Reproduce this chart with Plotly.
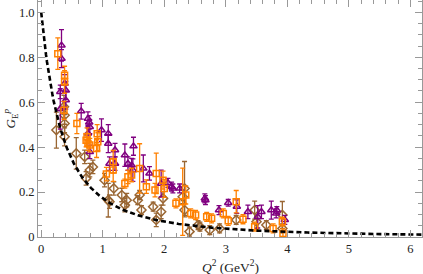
import numpy as np
import plotly.graph_objects as go

# Purple triangles
pur_x = [0.31, 0.33, 0.33, 0.31, 0.38, 0.40, 0.40, 0.65, 0.76, 0.78, 0.79, 0.76, 0.79, 0.98, 1.09, 1.09,
         1.11, 1.20, 1.20, 1.36, 1.41, 1.47, 1.49, 1.50, 1.66, 1.76, 1.95, 2.06, 2.12, 2.14, 2.25, 2.66,
         2.67, 2.89, 3.04, 3.18, 3.36, 3.52, 3.58, 3.74, 3.82, 3.83, 3.96]
pur_y = [0.646, 0.853, 0.794, 0.57, 0.683, 0.653, 0.609, 0.56, 0.527, 0.51, 0.49, 0.461, 0.379, 0.476, 0.46, 0.416,
         0.327, 0.387, 0.327, 0.364, 0.327, 0.32, 0.298, 0.404, 0.305, 0.283, 0.238, 0.241, 0.224, 0.216, 0.216, 0.172,
         0.164, 0.12, 0.152, 0.135, 0.112, 0.09, 0.112, 0.12, 0.105, 0.12, 0.076]
pur_e = [0.03, 0.07, 0.04, 0.09, 0.04, 0.04, 0.04, 0.035, 0.03, 0.03, 0.03, 0.03, 0.03, 0.05, 0.04, 0.04,
         0.03, 0.03, 0.03, 0.05, 0.03, 0.03, 0.05, 0.04, 0.06, 0.03, 0.06, 0.02, 0.02, 0.02, 0.02, 0.02,
         0.02, 0.02, 0.015, 0.03, 0.03, 0.05, 0.03, 0.04, 0.02, 0.015, 0.02]

# Orange squares
org_x = [0.27, 0.38, 0.38, 0.37, 0.58, 0.745, 0.73, 0.76, 0.79, 0.90, 0.92, 0.91, 1.06, 1.17, 1.17, 1.36,
         1.41, 1.47, 1.60, 1.71, 1.85, 1.87, 1.98, 2.00, 2.19, 2.30, 2.35, 2.43, 2.51, 2.69, 2.77, 2.96,
         3.04, 3.17, 3.28, 3.47, 3.77, 3.92, 3.93]
org_y = [0.816, 0.72, 0.69, 0.564, 0.505, 0.446, 0.431, 0.416, 0.409, 0.394, 0.424, 0.46, 0.28, 0.335, 0.298, 0.238,
         0.268, 0.276, 0.305, 0.224, 0.209, 0.283, 0.253, 0.216, 0.15, 0.157, 0.187, 0.105, 0.098, 0.09, 0.083, 0.105,
         0.072, 0.157, 0.079, 0.046, 0.038, 0.068, 0.016]
org_e = [0.07, 0.04, 0.05, 0.04, 0.045, 0.04, 0.03, 0.03, 0.03, 0.04, 0.04, 0.04, 0.03, 0.05, 0.05, 0.02,
         0.03, 0.03, 0.11, 0.03, 0.03, 0.09, 0.04, 0.04, 0.02, 0.15, 0.04, 0.02, 0.02, 0.02, 0.02, 0.02,
         0.02, 0.05, 0.02, 0.02, 0.02, 0.02, 0.02]

# Brown diamonds
brn_x = [0.247, 0.37, 0.38, 0.38, 0.38, 0.57, 0.707, 0.73, 0.79, 0.84, 1.03, 1.09, 1.11, 1.18, 1.31, 1.36,
         1.39, 1.57, 1.60, 1.63, 1.82, 1.87, 1.95, 1.98, 2.33, 2.30, 2.33, 2.41, 2.55, 2.58, 2.74, 2.90,
         3.17, 3.47, 3.50, 3.66, 3.92, 3.92]
brn_y = [0.476, 0.58, 0.542, 0.505, 0.446, 0.372, 0.357, 0.261, 0.298, 0.312, 0.253, 0.164, 0.157, 0.216, 0.187, 0.142,
         0.164, 0.164, 0.187, 0.12, 0.135, 0.076, 0.112, 0.172, 0.216, 0.179, 0.12, 0.024, 0.053, 0.046, 0.031, 0.038,
         0.076, 0.12, 0.068, 0.053, 0.098, 0.038]
brn_e = [0.08, 0.05, 0.04, 0.04, 0.04, 0.07, 0.03, 0.03, 0.03, 0.03, 0.03, 0.075, 0.03, 0.03, 0.03, 0.03,
         0.03, 0.02, 0.02, 0.02, 0.02, 0.03, 0.03, 0.03, 0.12, 0.03, 0.03, 0.02, 0.02, 0.02, 0.02, 0.02,
         0.02, 0.04, 0.03, 0.02, 0.06, 0.02]

# Dipole model curve parameter
LAMBDA2 = 0.71
q2_curve = np.linspace(0, 6.2, 400)
gd_curve = 1.0 / (1.0 + q2_curve / LAMBDA2) ** 2

x_ticks = [0, 1, 2, 3, 4, 5, 6]
y_ticks = [0, 0.2, 0.4, 0.6, 0.8, 1.0]
y_tick_text = ["0", "0.2", "0.4", "0.6", "0.8", "1.0"]

PURPLE = "#800080"
ORANGE = "#FF8000"
BROWN = "#996633"
SERIF = "Liberation Serif"

fig = go.Figure()

def add_series(x, y, e, color, symbol, size):
    fig.add_trace(go.Scatter(
        x=x, y=y, mode="markers",
        error_y=dict(type="data", array=e, visible=True, color=color, thickness=1.3, width=2.5),
        marker=dict(symbol=symbol, size=size, color=color, line=dict(color=color, width=1.5)),
        showlegend=False, hoverinfo="skip"))

add_series(brn_x, brn_y, brn_e, BROWN, "diamond-open", 7)
add_series(pur_x, pur_y, pur_e, PURPLE, "triangle-up-open", 6.5)
add_series(org_x, org_y, org_e, ORANGE, "square-open", 6)

fig.add_trace(go.Scatter(x=q2_curve, y=gd_curve, mode="lines",
                         line=dict(color="black", width=2.6, dash="5px,3px"),
                         showlegend=False, hoverinfo="skip"))

frame = "#999999"
font = dict(family=SERIF, size=12.5, color="#222222")

fig.update_layout(
    width=423, height=274,
    margin=dict(l=38, r=1, t=0, b=37, autoexpand=False),
    paper_bgcolor="white", plot_bgcolor="white",
    font=font,
    xaxis=dict(range=[-0.052, 6.19], showgrid=False, zeroline=False, automargin=False,
               showline=True, linecolor=frame, linewidth=1, mirror="ticks",
               ticks="inside", ticklen=7, tickcolor=frame, tickwidth=1,
               tickmode="array", tickvals=x_ticks,
               minor=dict(ticks="inside", dtick=0.2, tick0=0, ticklen=4, tickcolor=frame, showgrid=False)),
    yaxis=dict(range=[0, 1.055], showgrid=False, zeroline=False, automargin=False,
               showline=True, linecolor=frame, linewidth=1, mirror="ticks",
               ticks="inside", ticklen=7, tickcolor=frame, tickwidth=1,
               tickmode="array", tickvals=y_ticks, ticktext=y_tick_text,
               minor=dict(ticks="inside", dtick=0.05, tick0=0, ticklen=4, tickcolor=frame, showgrid=False)),
    annotations=[
        dict(text="<i>Q</i><sup>2</sup> (GeV<sup>2</sup>)", xref="paper", yref="paper",
             x=0.5, y=0, xanchor="center", yanchor="middle", yshift=-29, showarrow=False,
             font=dict(family=SERIF, size=13.5, color="#222222")),
        dict(text="<i>G</i><sub>E</sub><sup><i>p</i></sup>", xref="paper", yref="paper",
             x=0, y=0.5, xanchor="center", yanchor="middle", xshift=-28, textangle=-90, showarrow=False,
             font=dict(family=SERIF, size=13, color="#222222")),
    ],
)

fig.write_html("out.html", config={"displayModeBar": False},
               post_script="document.body.style.margin='0';document.body.style.padding='0';")
